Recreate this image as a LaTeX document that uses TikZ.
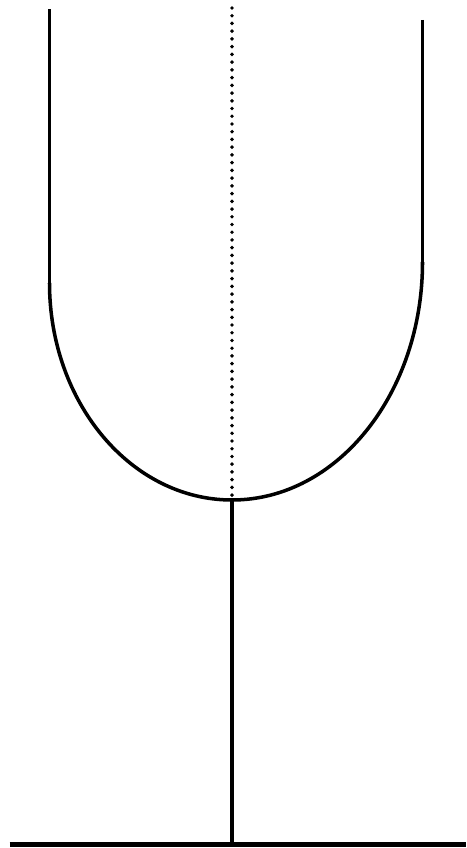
\documentclass[tikz,border=0pt]{standalone}
\usepackage{tikz}

\begin{document}
\begin{tikzpicture}[x=0.25mm,y=-0.25mm,line width=2.5pt,
  dotline/.style={line width=2.8pt,line cap=round,dash pattern=on 0pt off 5.5pt}]
\path[use as bounding box] (0,0) rectangle (466,848);
\coordinate (ltop) at (49.5,9.5);
\coordinate (lbot) at (49.5,283);
\coordinate (rtop) at (422.5,20);
\coordinate (rbot) at (422.5,262);
\coordinate (cup) at (232,500);
\coordinate (axis) at (232,8);
\coordinate (foot) at (232,844.5);
\draw (ltop) -- (lbot);
\draw (rtop) -- (rbot);
\draw (lbot) arc[start angle=180,end angle=90,x radius=182.5,y radius=217]
  arc[start angle=90,end angle=0,x radius=190.5,y radius=238];
\draw[dotline] (axis) -- (cup);
\draw (cup) -- (foot);
\draw[line width=2.9pt] (9.5,844.5) -- (466,844.5);
\end{tikzpicture}
\end{document}
